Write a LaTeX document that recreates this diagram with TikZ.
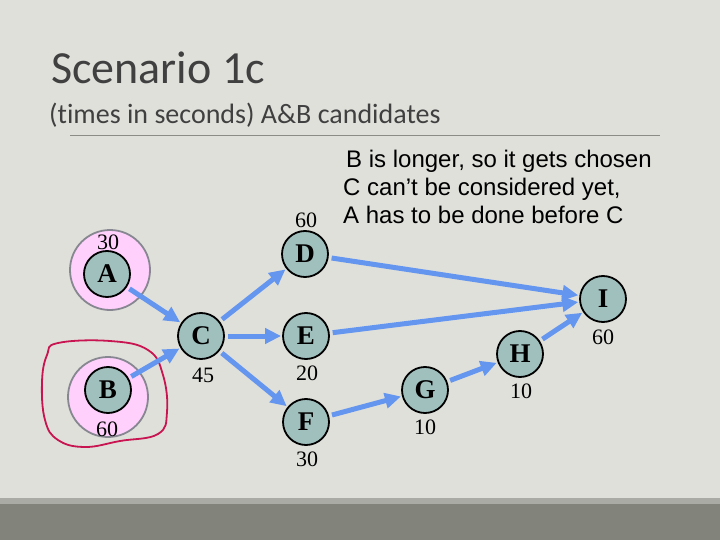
\documentclass[tikz,border=0pt]{standalone}
\usepackage{fontspec}
\setmainfont{Liberation Serif}
\newfontfamily\titlefont[Ligatures=NoCommon]{Carlito}
\newfontfamily\armfont{Liberation Sans}
\usetikzlibrary{arrows.meta}
\definecolor{bg}{RGB}{224,224,219}
\definecolor{band1}{RGB}{170,171,165}
\definecolor{band2}{RGB}{130,131,123}
\definecolor{titlegray}{RGB}{64,64,64}
\definecolor{rulegray}{RGB}{140,140,134}
\definecolor{nodefill}{RGB}{160,192,190}
\definecolor{pinkfill}{RGB}{255,208,252}
\definecolor{ringgray}{RGB}{135,135,145}
\definecolor{arrowblue}{RGB}{100,150,240}
\definecolor{loopred}{RGB}{200,20,80}
\tikzset{
  task/.style={circle, draw=black, line width=1.8pt, fill=nodefill, minimum size=46pt, inner sep=0pt,
    font=\fontsize{27}{27}\selectfont\bfseries},
  ring/.style={circle, draw=ringgray, line width=1.8pt, fill=pinkfill, minimum size=80pt, inner sep=0pt},
  num/.style={font=\fontsize{22}{22}\selectfont, inner sep=0pt},
  flow/.style={draw=arrowblue, line width=5pt, -{Triangle[length=16pt,width=15pt]}, shorten <=3pt, shorten >=1pt},
  note/.style={font=\armfont\fontsize{24}{24}\selectfont, anchor=base west, inner sep=0pt}
}
\begin{document}
\begin{tikzpicture}[x=1pt,y=-1pt]
\useasboundingbox (0,0) rectangle (720,540);
\fill[bg] (0,0) rectangle (720,540);
\fill[band1] (0,498) rectangle (720,504);
\fill[band2] (0,504) rectangle (720,540);
% title
\node[anchor=base west, inner sep=0pt, text=titlegray, font=\titlefont\fontsize{46}{46}\selectfont] (title) at (51,84) {Scenario 1c};
\node[anchor=base west, inner sep=0pt, text=titlegray, font=\titlefont\fontsize{28}{28}\selectfont] (subtitle) at (49,124) {(times in seconds) A\&B candidates};
\draw[rulegray, line width=1pt] (70,136) -- (660,136);
% rings
\node[ring] (ringA) at (110,270) {};
\node[ring] (ringB) at (108,397) {};
% red loop
\draw[loopred, line width=1.8pt] plot[smooth cycle, tension=0.7] coordinates {(58,343) (110,341) (148,350) (163,375) (167,412) (158,434) (120,441) (85,447) (58,440) (45,420) (42,382) (47,355)};
% tasks
\node[task] (A) at (107,274) {A};
\node[task] (B) at (108,390) {B};
\node[task] (C) at (201,336) {C};
\node[task] (D) at (305,254) {D};
\node[task] (E) at (306,336) {E};
\node[task] (F) at (306,422) {F};
\node[task] (G) at (425,390) {G};
\node[task] (H) at (520,354) {H};
\node[task] (I) at (603,299) {I};
% numbers
\node[num] (nA) at (108,242) {30};
\node[num] (nB) at (107,429) {60};
\node[num] (nC) at (203,375) {45};
\node[num] (nD) at (306,220) {60};
\node[num] (nE) at (307,373) {20};
\node[num] (nF) at (307,459) {30};
\node[num] (nG) at (425,427) {10};
\node[num] (nH) at (521,391) {10};
\node[num] (nI) at (603,337) {60};
% arrows
\draw[flow] (A) -- (C);
\draw[flow] (B) -- (C);
\draw[flow] (C) -- (D);
\draw[flow] (C) -- (E);
\draw[flow] (C) -- (F);
\draw[flow] (D) -- (I);
\draw[flow] (E) -- (I);
\draw[flow] (F) -- (G);
\draw[flow] (G) -- (H);
\draw[flow] (H) -- (I);
% note
\node[note] (note1) at (346,168) {B is longer, so it gets chosen};
\node[note] (note2) at (343,196) {C can’t be considered yet,};
\node[note] (note3) at (343,224) {A has to be done before C};
\end{tikzpicture}
\end{document}
